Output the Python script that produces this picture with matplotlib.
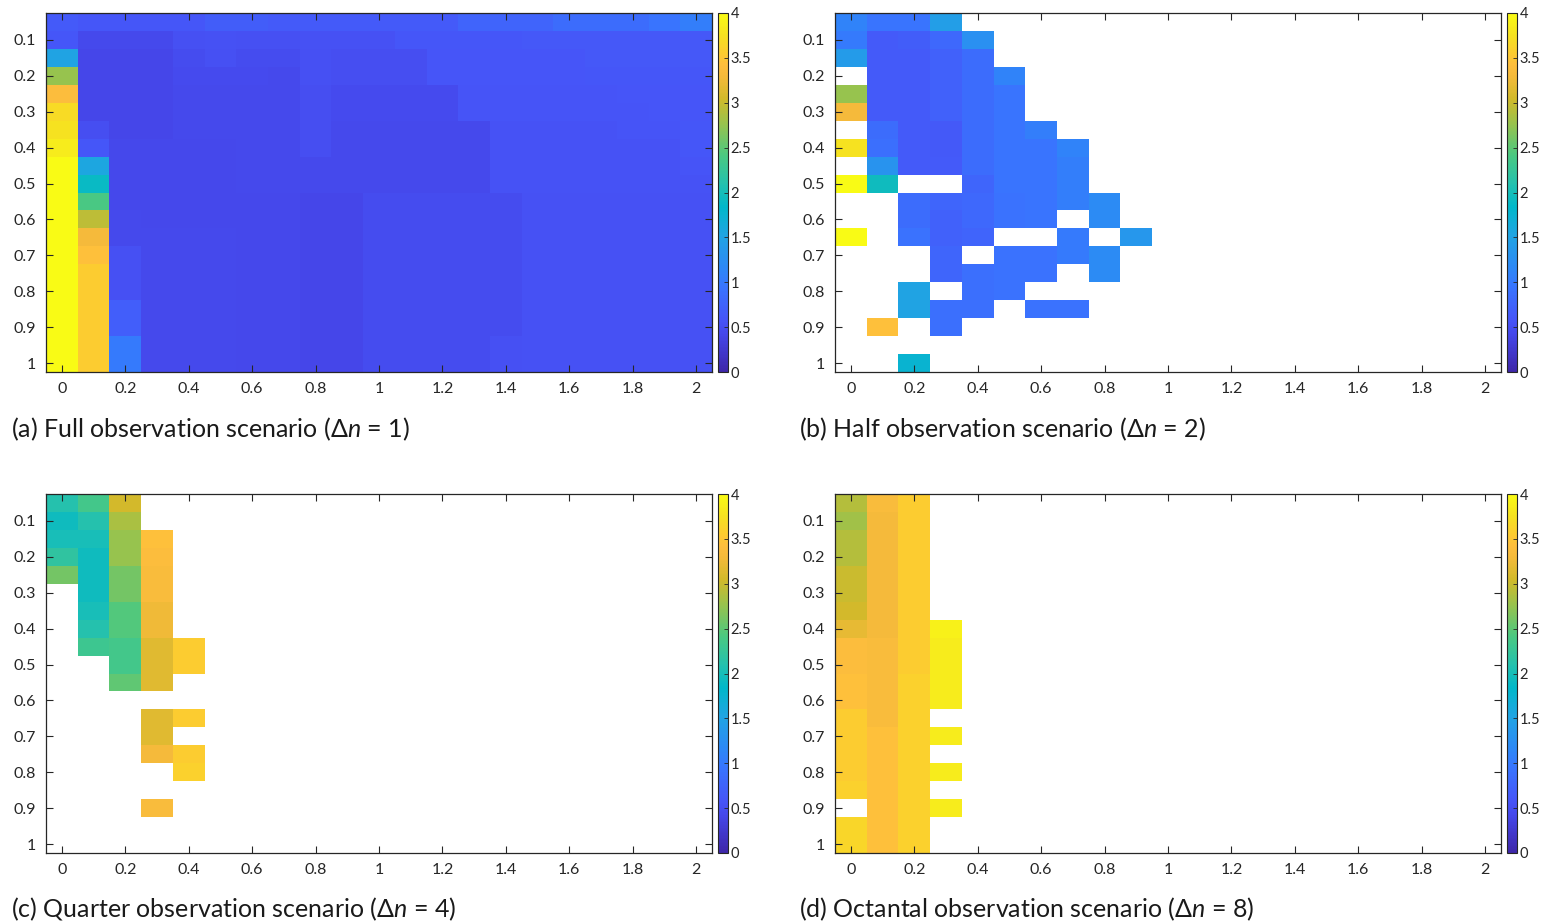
import numpy as np
import matplotlib
matplotlib.use("Agg")
import matplotlib.pyplot as plt
from matplotlib.colors import LinearSegmentedColormap

plt.rcParams['font.family'] = ['Lato', 'DejaVu Sans']
plt.rcParams['mathtext.fontset'] = 'custom'
plt.rcParams['mathtext.it'] = 'Lato:italic'
plt.rcParams['mathtext.rm'] = 'Lato'

nan = np.nan

# cell centres
x_vals = [0.0, 0.1, 0.2, 0.3, 0.4, 0.5, 0.6, 0.7, 0.8, 0.9, 1.0,
          1.1, 1.2, 1.3, 1.4, 1.5, 1.6, 1.7, 1.8, 1.9, 2.0]
y_vals = [0.05, 0.10, 0.15, 0.20, 0.25, 0.30, 0.35, 0.40, 0.45, 0.50,
          0.55, 0.60, 0.65, 0.70, 0.75, 0.80, 0.85, 0.90, 0.95, 1.00]

x_ticks = [0, 0.2, 0.4, 0.6, 0.8, 1, 1.2, 1.4, 1.6, 1.8, 2]
y_ticks = [0.1, 0.2, 0.3, 0.4, 0.5, 0.6, 0.7, 0.8, 0.9, 1]
cbar_ticks = [0, 0.5, 1, 1.5, 2, 2.5, 3, 3.5, 4]

# (a) full observation, all 21 columns
full_obs = [
    [0.65, 0.60, 0.60, 0.60, 0.60, 0.68, 0.68, 0.65, 0.65, 0.65, 0.65, 0.65, 0.65, 0.75, 0.75, 0.75, 0.85, 0.85, 0.85, 0.95, 1.05],
    [0.60, 0.44, 0.44, 0.44, 0.52, 0.54, 0.52, 0.52, 0.54, 0.54, 0.54, 0.60, 0.60, 0.60, 0.60, 0.62, 0.62, 0.62, 0.62, 0.62, 0.62],
    [1.50, 0.42, 0.42, 0.42, 0.48, 0.52, 0.48, 0.48, 0.52, 0.50, 0.50, 0.50, 0.58, 0.58, 0.58, 0.58, 0.58, 0.62, 0.62, 0.62, 0.62],
    [2.75, 0.42, 0.42, 0.42, 0.46, 0.46, 0.46, 0.45, 0.52, 0.50, 0.50, 0.50, 0.58, 0.58, 0.58, 0.58, 0.58, 0.60, 0.60, 0.60, 0.60],
    [3.40, 0.42, 0.42, 0.42, 0.44, 0.44, 0.44, 0.44, 0.50, 0.46, 0.46, 0.46, 0.46, 0.57, 0.57, 0.57, 0.57, 0.57, 0.58, 0.58, 0.58],
    [3.70, 0.42, 0.42, 0.42, 0.44, 0.44, 0.44, 0.44, 0.50, 0.46, 0.46, 0.46, 0.46, 0.57, 0.57, 0.57, 0.57, 0.57, 0.57, 0.58, 0.58],
    [3.75, 0.50, 0.42, 0.42, 0.44, 0.44, 0.44, 0.44, 0.50, 0.45, 0.45, 0.45, 0.45, 0.45, 0.56, 0.56, 0.56, 0.56, 0.57, 0.57, 0.60],
    [3.85, 0.60, 0.43, 0.43, 0.43, 0.43, 0.44, 0.44, 0.50, 0.45, 0.45, 0.45, 0.45, 0.45, 0.56, 0.56, 0.56, 0.56, 0.56, 0.56, 0.60],
    [4.00, 1.55, 0.43, 0.43, 0.43, 0.43, 0.45, 0.45, 0.45, 0.44, 0.44, 0.44, 0.44, 0.44, 0.55, 0.55, 0.55, 0.55, 0.55, 0.55, 0.57],
    [4.00, 1.90, 0.43, 0.43, 0.43, 0.43, 0.45, 0.45, 0.45, 0.44, 0.44, 0.44, 0.44, 0.44, 0.55, 0.55, 0.55, 0.55, 0.55, 0.55, 0.55],
    [4.00, 2.40, 0.43, 0.43, 0.43, 0.43, 0.43, 0.43, 0.42, 0.42, 0.47, 0.47, 0.47, 0.47, 0.47, 0.54, 0.54, 0.54, 0.54, 0.54, 0.54],
    [4.00, 2.95, 0.45, 0.43, 0.43, 0.43, 0.43, 0.43, 0.42, 0.42, 0.47, 0.47, 0.47, 0.47, 0.47, 0.54, 0.54, 0.54, 0.54, 0.54, 0.54],
    [4.00, 3.30, 0.45, 0.44, 0.44, 0.44, 0.43, 0.43, 0.42, 0.42, 0.47, 0.47, 0.47, 0.47, 0.47, 0.54, 0.54, 0.54, 0.54, 0.54, 0.54],
    [4.00, 3.45, 0.52, 0.44, 0.44, 0.44, 0.43, 0.43, 0.42, 0.42, 0.47, 0.47, 0.47, 0.47, 0.47, 0.54, 0.54, 0.54, 0.54, 0.54, 0.54],
    [4.00, 3.55, 0.52, 0.44, 0.44, 0.44, 0.43, 0.43, 0.42, 0.42, 0.47, 0.47, 0.47, 0.47, 0.47, 0.54, 0.54, 0.54, 0.54, 0.54, 0.54],
    [4.00, 3.55, 0.52, 0.44, 0.44, 0.44, 0.43, 0.43, 0.42, 0.42, 0.47, 0.47, 0.47, 0.47, 0.47, 0.54, 0.54, 0.54, 0.54, 0.54, 0.54],
    [4.00, 3.55, 0.70, 0.44, 0.44, 0.44, 0.43, 0.43, 0.42, 0.42, 0.47, 0.47, 0.47, 0.47, 0.47, 0.54, 0.54, 0.54, 0.54, 0.54, 0.54],
    [4.00, 3.55, 0.70, 0.44, 0.44, 0.44, 0.43, 0.43, 0.42, 0.42, 0.47, 0.47, 0.47, 0.47, 0.47, 0.54, 0.54, 0.54, 0.54, 0.54, 0.54],
    [4.00, 3.55, 1.00, 0.44, 0.44, 0.44, 0.43, 0.43, 0.42, 0.42, 0.47, 0.47, 0.47, 0.47, 0.53, 0.54, 0.54, 0.54, 0.54, 0.54, 0.54],
    [4.00, 3.55, 1.00, 0.44, 0.44, 0.44, 0.43, 0.43, 0.42, 0.42, 0.47, 0.47, 0.47, 0.47, 0.53, 0.54, 0.54, 0.54, 0.54, 0.54, 0.54],
]

# (b) half observation, first 10 columns (rest empty)
half_obs = [
    [1.10, 0.95, 0.95, 1.45, nan, nan, nan, nan, nan, nan],
    [1.00, 0.65, 0.68, 0.80, 1.25, nan, nan, nan, nan, nan],
    [1.40, 0.65, 0.65, 0.72, 0.85, nan, nan, nan, nan, nan],
    [nan, 0.65, 0.65, 0.72, 0.85, 1.10, nan, nan, nan, nan],
    [2.75, 0.65, 0.65, 0.72, 0.85, 0.95, nan, nan, nan, nan],
    [3.30, 0.65, 0.65, 0.72, 0.85, 0.95, nan, nan, nan, nan],
    [nan, 0.85, 0.65, 0.63, 0.85, 0.95, 1.05, nan, nan, nan],
    [3.75, 0.88, 0.65, 0.63, 0.85, 0.95, 0.95, 1.10, nan, nan],
    [nan, 1.30, 0.65, 0.65, 0.85, 0.95, 0.95, 1.05, nan, nan],
    [4.00, 1.95, nan, nan, 0.78, 0.95, 0.95, 1.05, nan, nan],
    [nan, nan, 0.85, 0.78, 0.80, 0.92, 0.95, 1.05, 1.20, nan],
    [nan, nan, 0.85, 0.72, 0.80, 0.92, 0.95, nan, 1.20, nan],
    [4.00, nan, 0.92, 0.72, 0.75, nan, nan, 1.00, nan, 1.35],
    [nan, nan, nan, 0.78, nan, 0.92, 0.92, 1.00, 1.20, nan],
    [nan, nan, nan, 0.78, 0.88, 0.92, 0.92, nan, 1.20, nan],
    [nan, nan, 1.50, nan, 0.88, 0.92, nan, nan, nan, nan],
    [nan, nan, 1.50, 0.88, 0.88, nan, 0.92, 0.92, nan, nan],
    [nan, 3.45, nan, 0.88, nan, nan, nan, nan, nan, nan],
    [nan, nan, nan, nan, nan, nan, nan, nan, nan, nan],
    [nan, nan, 1.75, nan, nan, nan, nan, nan, nan, nan],
]

# (c) quarter observation, first 5 columns
quarter_obs = [
    [2.10, 2.35, 3.05, nan, nan],
    [1.95, 2.10, 2.85, nan, nan],
    [2.00, 2.00, 2.75, 3.45, nan],
    [2.20, 1.95, 2.75, 3.40, nan],
    [2.60, 1.95, 2.60, 3.35, nan],
    [nan, 1.95, 2.60, 3.35, nan],
    [nan, 2.00, 2.45, 3.25, nan],
    [nan, 2.10, 2.45, 3.25, nan],
    [nan, 2.30, 2.35, 3.15, 3.55],
    [nan, nan, 2.35, 3.15, 3.55],
    [nan, nan, 2.50, 3.15, nan],
    [nan, nan, nan, nan, nan],
    [nan, nan, nan, 3.15, 3.55],
    [nan, nan, nan, 3.15, nan],
    [nan, nan, nan, 3.30, 3.55],
    [nan, nan, nan, nan, 3.60],
    [nan, nan, nan, nan, nan],
    [nan, nan, nan, 3.35, nan],
    [nan, nan, nan, nan, nan],
    [nan, nan, nan, nan, nan],
]

# (d) octantal observation, first 4 columns
octantal_obs = [
    [2.90, 3.35, 3.55, nan],
    [2.80, 3.30, 3.55, nan],
    [2.90, 3.30, 3.55, nan],
    [2.90, 3.30, 3.55, nan],
    [3.00, 3.30, 3.55, nan],
    [3.00, 3.30, 3.55, nan],
    [3.05, 3.30, 3.55, nan],
    [3.20, 3.30, 3.55, 3.90],
    [3.40, 3.35, 3.55, 3.85],
    [3.40, 3.35, 3.55, 3.85],
    [3.45, 3.35, 3.60, 3.85],
    [3.45, 3.35, 3.60, 3.85],
    [3.55, 3.35, 3.60, nan],
    [3.55, 3.45, 3.60, 3.85],
    [3.55, 3.45, 3.60, nan],
    [3.55, 3.45, 3.60, 3.85],
    [3.60, 3.45, 3.60, nan],
    [nan, 3.45, 3.60, 3.85],
    [3.65, 3.45, 3.60, nan],
    [3.65, 3.45, 3.60, nan],
]

captions = [
    "(a) Full observation scenario (Δ$n$ = 1)",
    "(b) Half observation scenario (Δ$n$ = 2)",
    "(c) Quarter observation scenario (Δ$n$ = 4)",
    "(d) Octantal observation scenario (Δ$n$ = 8)",
]

# parula-like colormap
parula_pts = [
    (0.000, (0.2422, 0.1504, 0.6603)),
    (0.105, (0.2700, 0.2800, 0.9200)),
    (0.143, (0.2750, 0.3300, 0.9700)),
    (0.238, (0.2206, 0.4603, 0.9973)),
    (0.286, (0.1786, 0.5289, 0.9682)),
    (0.381, (0.1248, 0.6459, 0.8883)),
    (0.460, (0.0036, 0.7199, 0.7920)),
    (0.524, (0.1408, 0.7571, 0.6820)),
    (0.603, (0.2906, 0.7861, 0.5076)),
    (0.698, (0.6174, 0.7608, 0.2887)),
    (0.762, (0.8203, 0.7271, 0.1666)),
    (0.825, (0.9600, 0.7300, 0.2300)),
    (0.857, (0.9950, 0.7450, 0.2400)),
    (0.890, (0.9900, 0.8000, 0.1900)),
    (0.937, (0.9650, 0.8800, 0.1300)),
    (1.000, (0.9769, 0.9839, 0.0805)),
]
parula = LinearSegmentedColormap.from_list("parula", parula_pts)

W, H = 1542, 924
fig = plt.figure(figsize=(W / 100, H / 100), dpi=100)

panels = [full_obs, half_obs, quarter_obs, octantal_obs]
lefts = [46, 835, 46, 835]
tops = [13, 13, 494, 494]
cap_pos = [(11, 429), (799, 429), (11, 909), (799, 909)]
txt = '#262626'

for k, data in enumerate(panels):
    Z = np.full((len(y_vals), len(x_vals)), np.nan)
    arr = np.array(data, dtype=float)
    Z[:, :arr.shape[1]] = arr
    Z = np.ma.masked_invalid(Z)

    ax = fig.add_axes([lefts[k] / W, 1 - (tops[k] + 359) / H, 666 / W, 359 / H])
    mesh = ax.pcolormesh(x_vals, y_vals, Z, shading='nearest', cmap=parula, vmin=0, vmax=4)
    ax.set_xlim(-0.05, 2.05)
    ax.set_ylim(1.025, 0.025)
    ax.set_xticks(x_ticks)
    ax.set_xticklabels(['%g' % t for t in x_ticks])
    ax.set_yticks(y_ticks)
    ax.set_yticklabels(['%g' % t for t in y_ticks])
    ax.tick_params(direction='in', top=True, right=True, length=5, width=0.8,
                   color=txt, labelcolor=txt, labelsize=11.5)
    ax.tick_params(axis='x', pad=7)
    ax.tick_params(axis='y', pad=7)
    for s in ax.spines.values():
        s.set_color(txt)
        s.set_linewidth(0.9)

    cax = fig.add_axes([(lefts[k] + 672) / W, 1 - (tops[k] + 359) / H, 10 / W, 359 / H])
    cb = fig.colorbar(mesh, cax=cax, ticks=cbar_ticks)
    cb.ax.set_yticklabels(['%g' % t for t in cbar_ticks])
    cb.ax.tick_params(direction='in', length=3, width=0.6, color=txt,
                      labelcolor=txt, labelsize=10.5, pad=2)
    cb.outline.set_edgecolor(txt)
    cb.outline.set_linewidth(0.8)

    fig.text(cap_pos[k][0] / W, 1 - cap_pos[k][1] / H, captions[k],
             fontsize=18, color='#1a1a1a', va='center', ha='left')

fig.savefig('out.png', dpi=100)
